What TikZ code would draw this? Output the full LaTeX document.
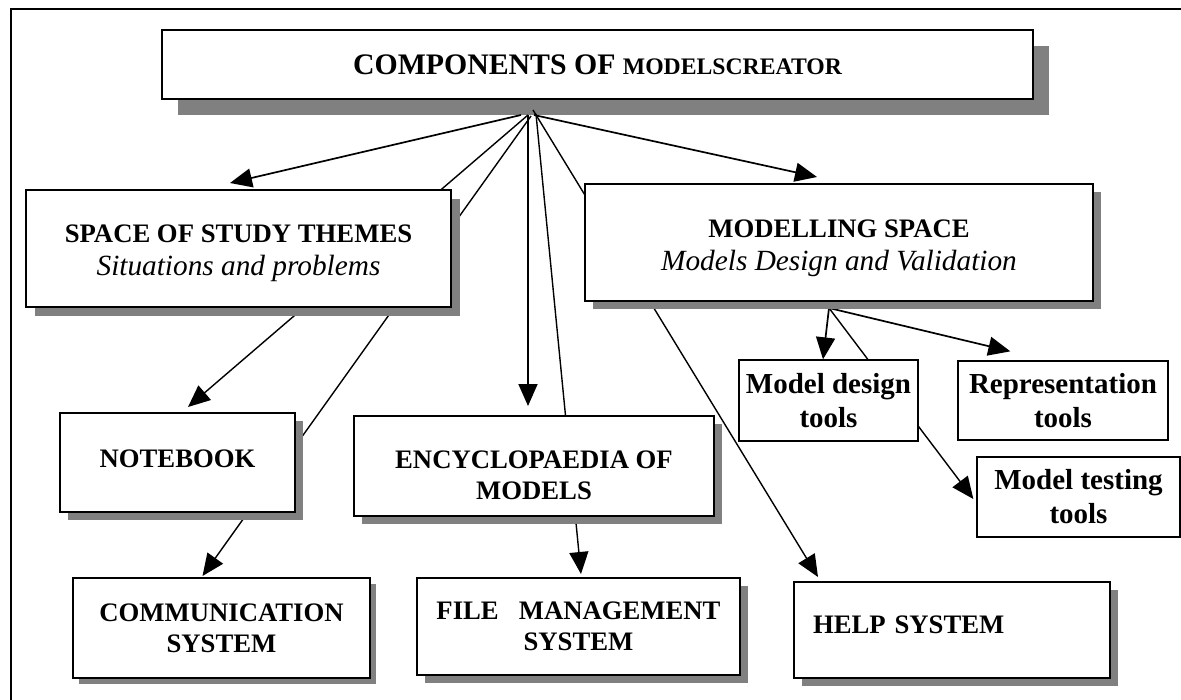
\documentclass[tikz,border=0pt]{standalone}
\usepackage{fontspec}
\setmainfont{Liberation Serif}
\usetikzlibrary{arrows.meta,shadows}

\definecolor{shadowgray}{RGB}{128,128,128}
\pgfdeclarelayer{bg}
\pgfsetlayers{bg,main}

\begin{document}
\begin{tikzpicture}[x=1pt,y=-1pt,>={Triangle[length=22pt,width=19pt]},
  box/.style={draw,line width=2pt,fill=white,align=center,inner sep=0pt,
    font=\fontsize{26.7}{31}\selectfont\bfseries,
    drop shadow={shadow xshift=#1,shadow yshift=-#1,fill=shadowgray,opacity=1}},
  box/.default=8pt,
  tool/.style={draw,line width=1.3pt,fill=white,align=center,inner sep=0pt,
    font=\fontsize{29}{34}\selectfont\bfseries},
  arr/.style={->,line width=1.7pt},
  link/.style={->,line width=1.4pt}]
  \useasboundingbox (0,0) rectangle (1181,699);

  % Components
  \node[box=9pt,minimum width=425pt,minimum height=117pt] (space) at (238.5,248.5)
    {\rule{0pt}{28pt}SPACE OF STUDY THEMES\\[2pt]{\fontsize{29.3}{33}\selectfont\mdseries\itshape Situations and problems}};
  \node[box,minimum width=508pt,minimum height=117pt] (model) at (839,242.5)
    {\rule{0pt}{30pt}MODELLING SPACE\\[2pt]{\fontsize{29.3}{33}\selectfont\mdseries\itshape Models Design and Validation}};
  \node[box,minimum width=235pt,minimum height=99pt] (nb) at (177.5,462.5) {\rule[-8pt]{0pt}{8pt}NOTEBOOK};
  \node[box,minimum width=360pt,minimum height=100pt] (enc) at (534,466) {\rule{0pt}{37pt}ENCYCLOPAEDIA OF\\MODELS};
  \node[box=6pt,minimum width=297pt,minimum height=100pt] (comm) at (221.5,628) {COMMUNICATION\\SYSTEM};
  \node[box,minimum width=323pt,minimum height=97pt] (fms) at (578.5,626.5) {FILE\hspace{20pt}MANAGEMENT\\SYSTEM};
  \node[box,minimum width=316pt,minimum height=96pt,text width=278pt,align=left] (help) at (952,630)
    {\rule[-10pt]{0pt}{10pt}HELP SYSTEM};

  % Modelling tools
  \node[tool,minimum width=179pt,minimum height=81pt] (mdt) at (828.5,400.5) {Model design\\tools};
  \node[tool,minimum width=210pt,minimum height=79pt] (rep) at (1063,400.5) {Representation\\tools};
  \node[tool,minimum width=203pt,minimum height=80pt] (mtt) at (1078.5,497) {Model testing\\tools};

  \begin{pgfonlayer}{bg}
    \fill[white] (0,0) rectangle (1181,699);
    \draw[line width=1.3pt] (11,740) |- (1220,9);
    \node[box=16pt,minimum width=871pt,minimum height=69pt,font=\fontsize{29.8}{34}\selectfont\bfseries] (top) at (597.5,64.5)
      {COMPONENTS OF {\fontsize{23.7}{28}\selectfont MODELSCREATOR}};
    \coordinate (hub) at (528,115);
    \coordinate (subhub) at (829,308);

    % Links from the top box
    \draw[arr] ([xshift=-7pt]hub) -- ([shift={(-8.5,-6)}]space.north);
    \draw[arr] ([xshift=6pt]hub) -- ([shift={(-22,-6)}]model.north);
    \draw[link] (hub) -- ([shift={(10.5,-5)}]nb.north);
    \draw[link] ([shift={(3,1)}]hub) -- ([shift={(-19,-1)}]comm.north);
    \draw[arr] (hub) -- ([shift={(-6,-9)}]enc.north);
    \draw[link] ([shift={(8,-1)}]hub) -- ([shift={(2.5,-3)}]fms.north);
    \draw[link] ([shift={(5,-5)}]hub) -- ([shift={(25,-4)}]help.north west);

    % Links to the modelling tools
    \draw[arr] (subhub) -- ([xshift=-5.5pt]mdt.north);
    \draw[arr] (subhub) -- ([shift={(53,-9)}]rep.north west);
    \draw[link] (subhub) -- ([shift={(-3,2)}]mtt.west);
  \end{pgfonlayer}
\end{tikzpicture}
\end{document}
